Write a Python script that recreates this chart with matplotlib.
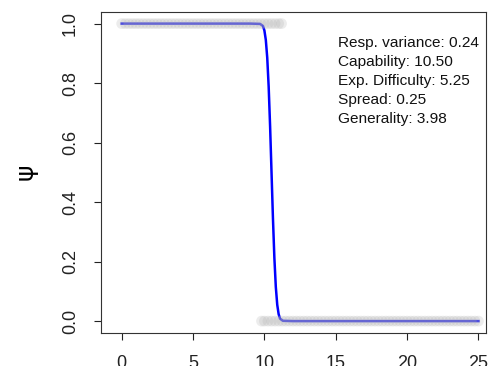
import matplotlib
matplotlib.use("Agg")
import matplotlib.pyplot as plt

plt.rcParams['font.family'] = ['Liberation Sans', 'DejaVu Sans']

# observed responses (x = difficulty, y = 1 correct / 0 wrong)
ok_x = [0, 0.25, 0.5, 0.75, 1, 1.25, 1.5, 1.75, 2, 2.25, 2.5, 2.75, 3, 3.25, 3.5,
        3.75, 4, 4.25, 4.5, 4.75, 5, 5.25, 5.5, 5.75, 6, 6.25, 6.5, 6.75, 7,
        7.25, 7.5, 7.75, 8, 8.25, 8.5, 8.75, 9, 9.25, 9.5, 9.75, 10, 10.25,
        10.5, 10.75, 11, 11.2]
fail_x = [9.8, 10, 10.25, 10.5, 10.75, 11, 11.25, 11.5, 11.75, 12, 12.25, 12.5,
          12.75, 13, 13.25, 13.5, 13.75, 14, 14.25, 14.5, 14.75, 15, 15.25,
          15.5, 15.75, 16, 16.25, 16.5, 16.75, 17, 17.25, 17.5, 17.75, 18,
          18.25, 18.5, 18.75, 19, 19.25, 19.5, 19.75, 20, 20.25, 20.5, 20.75,
          21, 21.25, 21.5, 21.75, 22, 22.25, 22.5, 22.75, 23, 23.25, 23.5,
          23.75, 24, 24.25, 24.5, 24.75, 25]

# fitted curve
curve_x = [0, 9.0, 9.7, 9.9, 10.0, 10.1, 10.2, 10.3, 10.4, 10.5, 10.6, 10.7,
           10.8, 10.9, 11.0, 11.1, 11.3, 12, 25]
curve_psi = [1, 1, 0.999, 0.992, 0.977, 0.945, 0.885, 0.788, 0.655, 0.5,
             0.345, 0.212, 0.115, 0.055, 0.023, 0.008, 0.001, 0, 0]

info = ["Resp. variance: 0.24", "Capability: 10.50", "Exp. Difficulty: 5.25",
        "Spread: 0.25", "Generality: 3.98"]

fig = plt.figure(figsize=(4.91, 3.66), dpi=100)
ax = fig.add_axes([101 / 491, 33 / 366, 385 / 491, 321 / 366])

ax.plot(curve_x, curve_psi, color='blue', lw=1.8, zorder=2)
ax.scatter(ok_x, [1] * len(ok_x), s=60, color='#b4b4b4', alpha=0.25,
           edgecolors='none', zorder=3)
ax.scatter(fail_x, [0] * len(fail_x), s=60, color='#b4b4b4', alpha=0.25,
           edgecolors='none', zorder=3)

ax.set_xlim(-1.45, 25.53)
ax.set_ylim(-0.04, 1.039)
ax.set_xticks([0, 5, 10, 15, 20, 25])
ax.set_yticks([0, 0.2, 0.4, 0.6, 0.8, 1.0])
ax.set_yticklabels(["0.0", "0.2", "0.4", "0.6", "0.8", "1.0"], rotation=90,
                   va='center')
ax.tick_params(length=5, width=0.8, labelsize=13, colors='#222222', pad=11)

for s in ax.spines.values():
    s.set_linewidth(0.8)
    s.set_color('#333333')

for i, t in enumerate(info):
    ax.text(15.16, 0.935 - i * 0.064, t, fontsize=11.1, va='center',
            ha='left', color='#111111')

fig.text(26 / 491, 1 - 172 / 366, "ψ", fontsize=18, ha='center', va='center',
         rotation=90, family=['DejaVu Sans'])

fig.savefig("out.png", dpi=100)
